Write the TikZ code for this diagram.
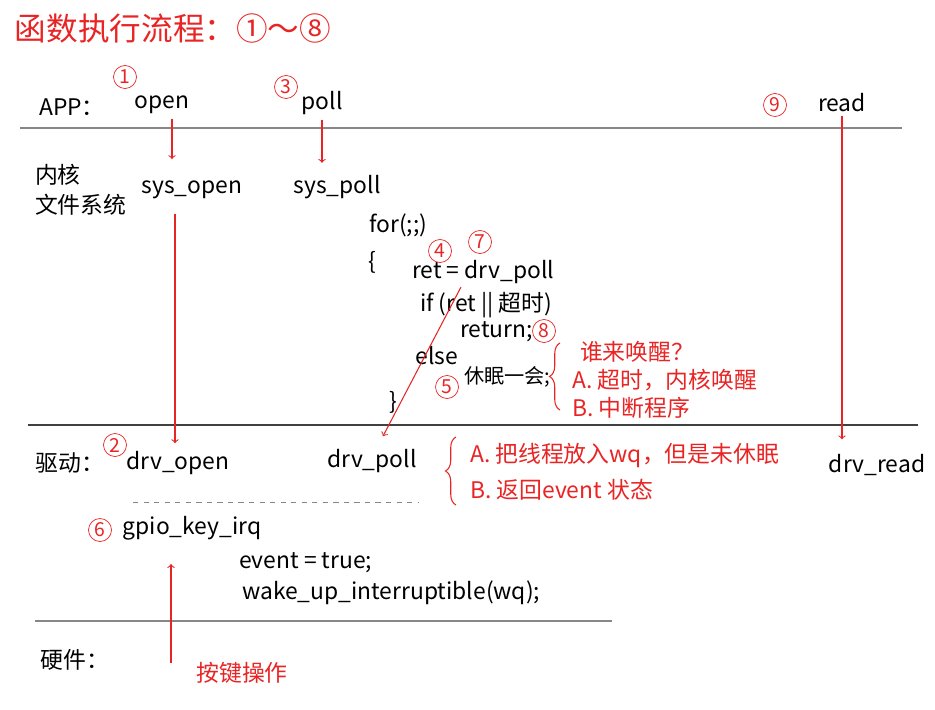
\documentclass[tikz,border=0pt]{standalone}
\usepackage{fontspec}
\setmainfont{Noto Sans CJK SC}
\usetikzlibrary{calc,decorations.pathreplacing}
\definecolor{pen}{RGB}{232,36,36}
\definecolor{rule}{RGB}{135,135,135}

\begin{document}
\begin{tikzpicture}[x=0.02cm,y=-0.02cm,
   every node/.style={inner sep=1pt,font=\fontsize{13}{17}\selectfont},
   note/.style={text=pen},
   num/.style={circle,draw=pen,text=pen,inner sep=0pt,minimum size=0.46cm,font=\fontsize{11}{13}\selectfont},
   flow/.style={->,draw=pen,line width=0.6pt},
   layer/.style={draw=rule,line width=1.2pt},
   curly/.style={draw=pen,line width=0.6pt,decorate,decoration={brace,amplitude=6pt}}]

   \useasboundingbox (0,0) rectangle (935,709);

   % title
   \node[note,font=\fontsize{18}{22}\selectfont] (title) at (173,28) {函数执行流程：①～⑧};

   % layers
   \draw[layer] (20,128) -- (902,128);
   \draw[draw=black!75,line width=1pt] (28,425) -- (918,425);
   \draw[layer] (35,621) -- (612,621);
%   \draw[layer] (35,700) -- (612,700);
   \draw[rule,dashed] (133,502) -- (418,502);

   % APP
   \node (app) at (72,107) {APP：};
   \node (open) at (162,105) {open};
   \node (poll) at (322,103) {poll};
   \node (read) at (842,103) {read};
   \node[num] (n1) at (125,77) {1};
   \node[num] (n3) at (286,87) {3};
   \node[num] (n9) at (775,105) {9};

   % kernel
   \node[anchor=west,align=left] (kernel) at (33,190) {内核\\文件系统};
   \node (sysopen) at (192,190) {sys\_open};
   \node (syspoll) at (337,187) {sys\_poll};
   \node[anchor=west] (for) at (367,225) {for(;;)};
   \node (lbrace) at (372,262) {\{};
   \node[anchor=west] (retline) at (410,272) {ret = drv\_poll};
   \node[anchor=west] (ifline) at (418,305) {if (ret || 超时)};
   \node[anchor=west] (ret) at (458,332) {return;};
   \node (else) at (437,356) {else};
   \node[anchor=west,font=\fontsize{11.5}{15}\selectfont] (sleep) at (462,377) {休眠一会;};
   \node (rbrace) at (393,402) {\}};
   \node[num] (n4) at (440,251) {4};
   \node[num] (n7) at (480,242) {7};
   \node[num] (n8) at (544,331) {8};
   \node[num] (n5) at (447,387) {5};

   \draw[curly] (560,410) -- (560,343);
   \node[note,anchor=west] (who) at (578,352) {谁来唤醒？};
   \node[note,anchor=west] (wakeA) at (570,380) {A. 超时，内核唤醒};
   \node[note,anchor=west] (wakeB) at (570,408) {B. 中断程序};

   % driver
   \node (drv) at (70,463) {驱动：};
   \node[num] (n2) at (115,445) {2};
   \node (drvopen) at (178,463) {drv\_open};
   \node (drvpoll) at (372,461) {drv\_poll};
   \node (drvread) at (877,465) {drv\_read};

   \draw[curly] (456,505) -- (456,437);
   \node[note,anchor=west] (pollA) at (468,455) {A. 把线程放入wq，但是未休眠};
   \node[note,anchor=west] (pollB) at (468,490) {B. 返回event 状态};

   \node[num] (n6) at (100,530) {6};
   \node (irq) at (192,528) {gpio\_key\_irq};
   \node[anchor=west] (event) at (237,563) {event = true;};
   \node[anchor=west] (wake) at (240,593) {wake\_up\_interruptible(wq);};

   % hardware
   \node (hw) at (75,660) {硬件：};
   \node[note] (key) at (242,673) {按键操作};

   % calls
   \draw[flow] ($(open.south)+(10,3)$) -- ($(open.south)+(10,43)$);
   \draw[flow] ($(poll.south)+(0,3)$) -- ($(poll.south)+(0,46)$);
   \draw[flow] ($(sysopen.south)+(-17,13)$) -- ($(drvopen.north)+(-3,-6)$);
   \draw[flow] ($(read.south)+(0,2)$) -- ($(read.south)+(0,325)$);
   \draw[flow] ($(retline.west)+(51,15)$) -- ($(drvpoll.north)+(11,-11)$);
   \draw[flow] ($(irq.south)+(-21,121)$) -- ($(irq.south)+(-21,22)$);

\end{tikzpicture}
\end{document}
